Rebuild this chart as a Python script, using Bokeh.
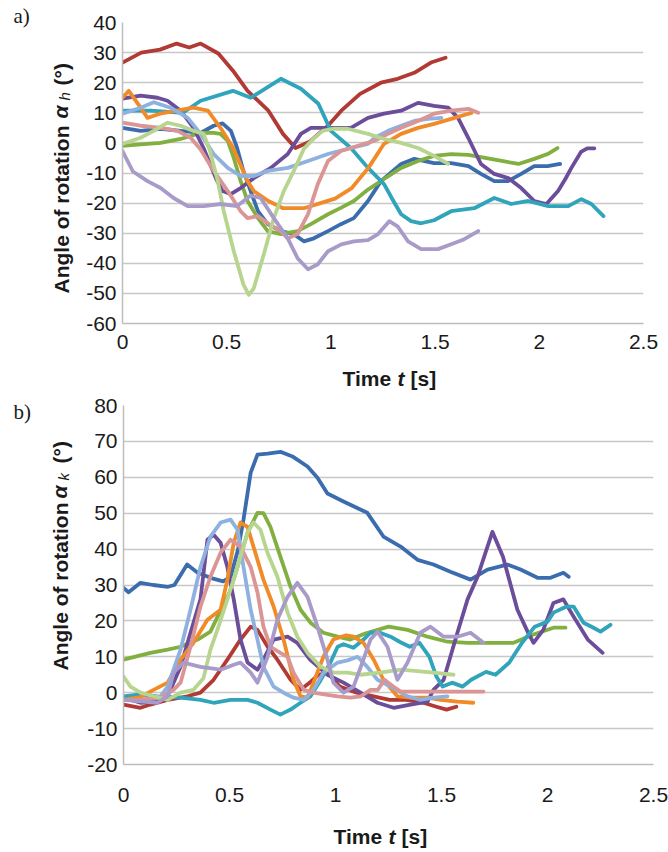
from bokeh.plotting import figure
from bokeh.models import Label, FixedTicker, Range1d
from bokeh.layouts import column, row
from bokeh.embed import file_html
from bokeh.resources import INLINE

# ---------------- data ----------------
X_TICKS = [0, 0.5, 1, 1.5, 2, 2.5]
X_TICK_LABELS = ["0", "0.5", "1", "1.5", "2", "2.5"]
H_Y_TICKS = [-60, -50, -40, -30, -20, -10, 0, 10, 20, 30, 40]
K_Y_TICKS = [-20, -10, 0, 10, 20, 30, 40, 50, 60, 70, 80]

# a) hip rotation alpha_h
h_blue_t = [0, 0.087, 0.183, 0.279, 0.375, 0.4375, 0.48, 0.52, 0.55, 0.58, 0.615, 0.65, 0.697, 0.76, 0.822, 0.87, 0.918, 0.986, 1.048, 1.11, 1.178, 1.24, 1.337, 1.4, 1.495, 1.577, 1.66, 1.72, 1.784, 1.85, 1.913, 1.976, 2.04, 2.1]
h_blue_v = [5, 4, 4.7, 4, 3.3, 5.7, 6.5, 4, -1.7, -9.3, -16, -22.7, -27, -29.3, -30.3, -32.7, -31.7, -29.3, -27, -25, -19.3, -12.7, -7, -5.3, -6.7, -6.7, -7.7, -10.3, -12.7, -12.7, -10.3, -7.7, -7.7, -7]
h_red_t = [0, 0.09, 0.18, 0.26, 0.32, 0.375, 0.46, 0.53, 0.6, 0.7, 0.77, 0.83, 0.9, 0.99, 1.05, 1.14, 1.24, 1.32, 1.4, 1.48, 1.55]
h_red_v = [26.7, 30, 31, 33, 31.7, 33, 29.7, 24, 17.3, 10.7, 3, -1.7, 0.5, 6, 10.7, 16.3, 20, 21.3, 23.3, 26.7, 28.3]
h_green_t = [0, 0.087, 0.183, 0.279, 0.375, 0.4375, 0.47, 0.505, 0.534, 0.567, 0.6, 0.65, 0.697, 0.76, 0.84, 0.904, 0.986, 1.05, 1.11, 1.178, 1.255, 1.337, 1.418, 1.495, 1.577, 1.66, 1.74, 1.82, 1.9, 1.976, 2.04, 2.087]
h_green_v = [-1, -0.5, 0, 1.3, 3.3, 3.3, 3, 0.7, -5, -12.7, -19.3, -25, -29.3, -30.3, -29.3, -27, -23.7, -21.5, -19.3, -15.5, -12, -8.3, -6, -4.3, -3.7, -4, -5, -6, -7, -5.3, -3.7, -1.7]
h_purple_t = [0, 0.087, 0.168, 0.216, 0.279, 0.341, 0.389, 0.42, 0.45, 0.48, 0.519, 0.567, 0.63, 0.712, 0.793, 0.856, 0.904, 0.986, 1.096, 1.178, 1.255, 1.337, 1.418, 1.495, 1.5625, 1.61, 1.659, 1.72, 1.784, 1.851, 1.913, 1.976, 2.034, 2.09, 2.125, 2.154, 2.2, 2.23, 2.264]
h_purple_v = [14.7, 15.7, 15, 14, 10.7, 5, -1.7, -7, -12, -16, -17, -15, -11.7, -8.3, -3.7, 3, 5, 5, 5, 8.3, 9.7, 10.7, 13.3, 12.3, 11.7, 8.3, 1.7, -7, -10.3, -11.7, -15, -19.3, -20.3, -16, -12, -8.3, -3, -1.8, -1.8]
h_teal_t = [0, 0.135, 0.29, 0.375, 0.53, 0.615, 0.76, 0.856, 0.94, 1.0, 1.096, 1.178, 1.255, 1.3, 1.337, 1.385, 1.433, 1.495, 1.577, 1.688, 1.784, 1.865, 1.947, 2.043, 2.139, 2.202, 2.25, 2.308]
h_teal_v = [10.7, 10.7, 10, 14, 17.3, 15, 21.3, 18, 13, 4, -1.7, -8.3, -13.7, -19.3, -23.7, -26, -26.7, -25.7, -22.7, -21.7, -18.3, -20.3, -19.3, -21, -21, -18.7, -20.3, -24.3]
h_orange_t = [0, 0.03, 0.087, 0.12, 0.18, 0.26, 0.34, 0.41, 0.47, 0.53, 0.6, 0.63, 0.7, 0.77, 0.87, 0.95, 1.02, 1.1, 1.18, 1.255, 1.337, 1.418, 1.495, 1.577, 1.66, 1.675]
h_orange_v = [15, 17.3, 11.7, 8.3, 9.7, 10.7, 11.7, 10.7, 5, -1.5, -12.7, -16, -19.3, -21.7, -21.7, -20, -18.5, -15, -8.3, -0.3, 3, 5, 6.3, 8, 9.7, 10]
h_lblue_t = [0, 0.087, 0.15, 0.23, 0.313, 0.375, 0.4375, 0.505, 0.567, 0.63, 0.697, 0.793, 0.89, 0.986, 1.096, 1.178, 1.21, 1.274, 1.337, 1.4, 1.466, 1.53]
h_lblue_v = [9.7, 11.7, 13.5, 11.7, 8.3, 3, -3.7, -8.3, -11, -11, -9.3, -8.3, -6, -3.7, -1.7, -0.3, 1.7, 4, 5.7, 7.3, 8, 8.3]
h_pink_t = [0, 0.087, 0.183, 0.264, 0.327, 0.375, 0.4375, 0.505, 0.567, 0.6, 0.65, 0.697, 0.76, 0.793, 0.84, 0.89, 0.937, 0.986, 1.048, 1.096, 1.16, 1.21, 1.274, 1.337, 1.418, 1.495, 1.577, 1.66, 1.707]
h_pink_v = [6.7, 5.7, 5, 4, 1.7, -2.2, -9.3, -16, -22.7, -25, -24.3, -26.7, -29.3, -31.7, -30.3, -23.7, -13.7, -6, -2.7, -1.7, -0.3, 0.7, 3, 5, 7.3, 9.7, 10.7, 11.3, 10]
h_lgreen_t = [0, 0.087, 0.15, 0.216, 0.279, 0.341, 0.389, 0.42, 0.457, 0.486, 0.534, 0.58, 0.606, 0.63, 0.678, 0.726, 0.774, 0.822, 0.87, 0.918, 0.96, 1.01, 1.08, 1.178, 1.255, 1.337, 1.418, 1.495, 1.5625]
h_lgreen_v = [-0.3, 1.7, 4, 6.7, 5.7, 4, 3, -2.7, -12.7, -22.7, -36, -47, -50.5, -48.3, -37, -25, -16, -9.3, -2, 1.5, 4, 4.7, 4.7, 3, 1.3, 0, -1.7, -4.3, -7]
h_lpurple_t = [0, 0.05, 0.12, 0.183, 0.245, 0.313, 0.39, 0.47, 0.55, 0.615, 0.663, 0.726, 0.793, 0.84, 0.89, 0.937, 0.986, 1.05, 1.11, 1.178, 1.226, 1.28, 1.32, 1.37, 1.433, 1.514, 1.577, 1.64, 1.707]
h_lpurple_v = [-2.7, -9.5, -12.7, -15, -18.3, -21, -21, -20.3, -21, -17.5, -18.3, -25, -31.7, -38.3, -42, -40.3, -36, -33.7, -32.7, -32.3, -30.3, -26, -27.7, -32.7, -35.3, -35.3, -33.7, -32, -29.3]

# b) knee rotation alpha_k
k_blue_t = [0, 0.024, 0.08, 0.14, 0.21, 0.24, 0.30, 0.35, 0.41, 0.47, 0.505, 0.54, 0.566, 0.6, 0.632, 0.68, 0.74, 0.80, 0.868, 0.915, 0.962, 1.04, 1.10, 1.15, 1.226, 1.307, 1.387, 1.462, 1.542, 1.637, 1.717, 1.81, 1.873, 1.953, 2.014, 2.075, 2.1]
k_blue_v = [29.2, 28, 30.6, 30, 29.5, 30, 35.7, 33.4, 32, 31, 32.3, 39.8, 48.2, 61.3, 66.3, 66.6, 67.1, 65.7, 63, 59.9, 55.5, 53.2, 51.5, 50.1, 43.5, 40.7, 37, 35.7, 33.7, 31.5, 34.3, 35.7, 34.3, 32, 32, 33.4, 32.3]
k_red_t = [0, 0.08, 0.127, 0.208, 0.302, 0.363, 0.425, 0.49, 0.552, 0.6, 0.632, 0.68, 0.726, 0.788, 0.835, 0.882, 0.92, 0.962, 1.02, 1.1, 1.18, 1.255, 1.335, 1.415, 1.476, 1.524, 1.57]
k_red_v = [-3.3, -4.2, -3.3, -2, -1, 0, 3.6, 9.2, 14.8, 18.4, 17.5, 12.8, 9.2, 3.6, 0.8, 3, 5, 5.6, 1.7, 0, -1, -2, -2, -2.8, -3.9, -4.7, -3.9]
k_green_t = [0, 0.127, 0.208, 0.269, 0.35, 0.41, 0.453, 0.5, 0.538, 0.585, 0.632, 0.66, 0.693, 0.74, 0.788, 0.835, 0.882, 0.943, 1.01, 1.07, 1.14, 1.25, 1.34, 1.434, 1.528, 1.623, 1.717, 1.84, 1.934, 2.028, 2.085]
k_green_v = [9.2, 11.1, 12, 12.8, 14.8, 17, 22.3, 27.9, 35, 44.6, 50.1, 50, 46.2, 37.9, 29.5, 23.1, 19.5, 16.7, 15.6, 14.8, 16.5, 18.4, 17.5, 15.6, 14.2, 13.9, 13.9, 13.9, 16.2, 18.1, 18.1]
k_purple_t = [0, 0.08, 0.16, 0.208, 0.269, 0.316, 0.363, 0.396, 0.425, 0.458, 0.49, 0.52, 0.552, 0.585, 0.632, 0.66, 0.708, 0.774, 0.82, 0.88, 0.962, 1.038, 1.118, 1.198, 1.274, 1.354, 1.434, 1.462, 1.51, 1.575, 1.623, 1.67, 1.74, 1.79, 1.858, 1.906, 1.934, 1.98, 2.028, 2.075, 2.123, 2.19, 2.26]
k_purple_v = [-1.4, -2.8, -2.5, -1, 7.2, 16.7, 26, 42.6, 44, 41.8, 35, 26, 14.8, 8.4, 6.4, 9.2, 14.8, 15.6, 13.9, 9.2, 5, 2.8, 0, -2.8, -4.2, -3.3, -2.5, 0.8, 3.6, 16.7, 26, 32.3, 44.8, 37.9, 23.1, 17, 13.9, 17.5, 25, 26, 21.2, 14.8, 11.1]
k_teal_t = [0, 0.08, 0.16, 0.269, 0.363, 0.425, 0.505, 0.585, 0.632, 0.693, 0.74, 0.788, 0.835, 0.882, 0.93, 0.976, 1.01, 1.038, 1.085, 1.132, 1.165, 1.21, 1.26, 1.302, 1.35, 1.396, 1.443, 1.476, 1.505, 1.55, 1.6, 1.64, 1.71, 1.755, 1.82, 1.88, 1.94, 2.0, 2.028, 2.09, 2.123, 2.17, 2.217, 2.25, 2.297]
k_teal_v = [-1, -0.5, -1, -1.4, -2, -2.8, -2, -2, -2.8, -4.7, -6.1, -4.7, -2.8, -1, 3.5, 8.4, 12.8, 13.5, 12.5, 14.8, 16.7, 16.7, 15.6, 14.2, 12.8, 13.9, 10, 4.5, 1.7, 2.8, 1.7, 3.6, 5.8, 5, 8.4, 13.9, 18.4, 19.8, 22.3, 24, 24, 19.5, 18.1, 17, 18.9]
k_orange_t = [0, 0.08, 0.142, 0.208, 0.269, 0.33, 0.396, 0.458, 0.49, 0.52, 0.552, 0.585, 0.613, 0.66, 0.708, 0.755, 0.802, 0.835, 0.868, 0.896, 0.943, 0.99, 1.05, 1.085, 1.132, 1.18, 1.226, 1.292, 1.354, 1.434, 1.495, 1.575, 1.65]
k_orange_v = [-2, -1.2, 0.8, 2.8, 9.2, 13.9, 20.3, 23.1, 31.5, 41.8, 47.4, 46.2, 40.7, 31.5, 24, 14.8, 3.6, -1, -1.4, 2.8, 10, 14.8, 16, 15.6, 13.9, 9.2, 3.6, -1, -1.4, -1.4, -2, -2.5, -2.8]
k_lblue_t = [0, 0.08, 0.175, 0.208, 0.269, 0.316, 0.363, 0.41, 0.458, 0.505, 0.538, 0.566, 0.6, 0.632, 0.66, 0.708, 0.755, 0.802, 0.85, 0.896, 0.943, 1.01, 1.057, 1.104, 1.15, 1.198, 1.26, 1.34, 1.4, 1.462, 1.528]
k_lblue_v = [-2, -2, -1, 1.7, 12, 23.1, 35, 43.5, 47.4, 48.2, 45.4, 35, 23.1, 14.8, 7.2, 1.7, 0, -1.4, -2, 0.8, 5.6, 8.4, 9, 10, 7.2, 3.6, 1.7, -1, -2, -1.4, -1]
k_pink_t = [0, 0.08, 0.175, 0.236, 0.269, 0.316, 0.363, 0.41, 0.458, 0.505, 0.552, 0.6, 0.632, 0.66, 0.693, 0.74, 0.774, 0.802, 0.85, 0.896, 0.962, 1.01, 1.07, 1.12, 1.165, 1.2, 1.231, 1.28, 1.307, 1.46, 1.623, 1.698]
k_pink_v = [-2, -2, -1.4, 0.8, 2.8, 12.8, 24, 32.3, 39, 42.6, 40.7, 35, 27.9, 18.4, 12.8, 11.1, 10, 5.6, 0.8, 0, -0.6, -1, -1.4, -1, 0.8, 0.8, 3.6, 1.4, 0.3, 0.3, 0.3, 0.3]
k_lgreen_t = [0, 0.033, 0.08, 0.142, 0.208, 0.269, 0.33, 0.377, 0.41, 0.443, 0.49, 0.538, 0.585, 0.613, 0.646, 0.679, 0.726, 0.774, 0.82, 0.868, 0.93, 0.99, 1.057, 1.118, 1.21, 1.307, 1.387, 1.462, 1.557]
k_lgreen_v = [4.5, 1.7, 0, -1, -2, 0, 0.8, 4, 12, 17.5, 26, 35, 44.6, 47.4, 45.4, 39, 32.3, 22.3, 15.6, 11.1, 7.2, 5.6, 5.6, 5, 5.6, 6.4, 6, 5.6, 5]
k_lpurple_t = [0, 0.094, 0.16, 0.208, 0.236, 0.283, 0.363, 0.458, 0.52, 0.552, 0.6, 0.632, 0.68, 0.726, 0.774, 0.82, 0.868, 0.915, 0.962, 0.99, 1.038, 1.085, 1.118, 1.165, 1.198, 1.245, 1.292, 1.34, 1.4, 1.448, 1.51, 1.575, 1.637, 1.698]
k_lpurple_v = [-2, -2.5, -2.8, -1, 5.6, 8.4, 7.2, 6.4, 7.8, 8.4, 5.6, 2.8, 10, 20.3, 26.7, 30.6, 26.7, 18.4, 9.2, 2.8, 0, 1.7, 7, 14.8, 17, 12.8, 3.6, 8.4, 16.7, 18.4, 15.6, 15.6, 16.7, 13.9]

SERIES_COLORS = ["#3B6DAE", "#B13A35", "#82B040", "#6B4D9A", "#2FA4BA",
                 "#F18B28", "#8EB1E0", "#DA9594", "#B7D58F", "#A99BC9"]

H_SERIES = [(h_blue_t, h_blue_v), (h_red_t, h_red_v), (h_green_t, h_green_v),
            (h_purple_t, h_purple_v), (h_teal_t, h_teal_v), (h_orange_t, h_orange_v),
            (h_lblue_t, h_lblue_v), (h_pink_t, h_pink_v), (h_lgreen_t, h_lgreen_v),
            (h_lpurple_t, h_lpurple_v)]
K_SERIES = [(k_blue_t, k_blue_v), (k_red_t, k_red_v), (k_green_t, k_green_v),
            (k_purple_t, k_purple_v), (k_teal_t, k_teal_v), (k_orange_t, k_orange_v),
            (k_lblue_t, k_lblue_v), (k_pink_t, k_pink_v), (k_lgreen_t, k_lgreen_v),
            (k_lpurple_t, k_lpurple_v)]

SANS = "Liberation Sans"
TEXT_COLOR = "#1a1a1a"
VERT = 1.5707963


def text_fig(width, height, b_left=0, b_right=0):
    """A bare canvas (no axes) used to hold free text."""
    p = figure(width=width, height=height, x_range=Range1d(0, 1),
               y_range=Range1d(0, 1), output_backend="svg",
               toolbar_location=None, x_axis_type=None, y_axis_type=None,
               min_border_left=b_left, min_border_right=b_right,
               min_border_top=0, min_border_bottom=0)
    p.outline_line_color = None
    p.grid.visible = False
    return p


def txt(p, x, y, text, size, style="bold", angle=0.0, font=SANS,
        align="left", baseline="middle"):
    p.add_layout(Label(x=x, y=y, x_units="screen", y_units="screen", text=text,
                       text_font=font, text_font_size=f"{size}px",
                       text_font_style=style, text_color=TEXT_COLOR,
                       angle=angle, text_align=align, text_baseline=baseline))


def make_fig(width, height, yr, yticks, b_left, b_right, b_top, b_bottom, x_standoff):
    p = figure(width=width, height=height, x_range=Range1d(0, 2.5),
               y_range=Range1d(*yr), output_backend="svg", toolbar_location=None,
               min_border_left=b_left, min_border_right=b_right,
               min_border_top=b_top, min_border_bottom=b_bottom)
    p.outline_line_color = None
    p.xgrid.visible = False
    p.ygrid.grid_line_color = "#C8C8C8"
    p.ygrid.grid_line_width = 1.5
    p.ygrid.ticker = FixedTicker(ticks=yticks)
    p.yaxis.ticker = FixedTicker(ticks=yticks)
    p.yaxis.major_label_overrides = {v: str(v) for v in yticks}
    p.xaxis.ticker = FixedTicker(ticks=X_TICKS)
    p.xaxis.major_label_overrides = dict(zip(X_TICKS, X_TICK_LABELS))
    for ax in (p.xaxis[0], p.yaxis[0]):
        ax.axis_line_color = "#BDBDBD"
        ax.axis_line_width = 1.5
        ax.major_tick_line_color = None
        ax.minor_tick_line_color = None
        ax.major_tick_out = 0
        ax.major_tick_in = 0
        ax.major_label_text_font = SANS
        ax.major_label_text_font_size = "21px"
        ax.major_label_text_color = TEXT_COLOR
    p.yaxis.major_label_standoff = 6
    p.xaxis.major_label_standoff = x_standoff
    return p


def draw(p, series):
    for (t, v), c in zip(series, SERIES_COLORS):
        p.line(t, v, line_color=c, line_width=3.8, line_join="round", line_cap="round")


LEFT_W = 77
MAIN_W = 668 - LEFT_W

# ---------------- chart a (page y 0..392) ----------------
left_a = text_fig(LEFT_W, 392)
txt(left_a, 13, 377, "a)", 21, "normal", font="Liberation Serif")
txt(left_a, 61, 99, "Angle of rotation", 21, "bold", angle=VERT)
txt(left_a, 60, 274, "\u03b1", 21, "bold italic", angle=VERT)
txt(left_a, 64, 292, "h", 15, "italic", angle=VERT)
txt(left_a, 61, 307, "(\u00b0)", 21, "bold", angle=VERT)

main_a = make_fig(MAIN_W, 365, (-60, 40), H_Y_TICKS, 122 - LEFT_W, 25, 22, 365 - 323, 11)
draw(main_a, H_SERIES)

# frame of this strip is aligned with main_a's frame (left edge at page x 122)
xt_a = text_fig(MAIN_W, 27, 122 - LEFT_W, 25)
txt(xt_a, 220, 14, "Time", 21, "bold")
txt(xt_a, 275, 14, "t", 21, "bold italic")
txt(xt_a, 288, 14, "[s]", 21, "bold")

# ---------------- chart b (page y 392..852) ----------------
left_b = text_fig(LEFT_W, 460)
txt(left_b, 13, 441, "b)", 21, "normal", font="Liberation Serif")
txt(left_b, 60, 182, "Angle of rotation", 21, "bold", angle=VERT)
txt(left_b, 59, 354, "\u03b1", 21, "bold italic", angle=VERT)
txt(left_b, 63, 372, "k", 15, "italic", angle=VERT)
txt(left_b, 60, 389, "(\u00b0)", 21, "bold", angle=VERT)

main_b = make_fig(MAIN_W, 430, (-20, 80), K_Y_TICKS, 123 - LEFT_W, 15, 13, 430 - 372, 23)
draw(main_b, K_SERIES)

xt_b = text_fig(MAIN_W, 30, 123 - LEFT_W, 15)
txt(xt_b, 210, 16, "Time", 21, "bold")
txt(xt_b, 265, 16, "t", 21, "bold italic")
txt(xt_b, 278, 16, "[s]", 21, "bold")

layout = column(
    row(left_a, column(main_a, xt_a, spacing=0), spacing=0),
    row(left_b, column(main_b, xt_b, spacing=0), spacing=0),
    spacing=0,
)
open("out.html", "w").write(file_html(layout, INLINE))
